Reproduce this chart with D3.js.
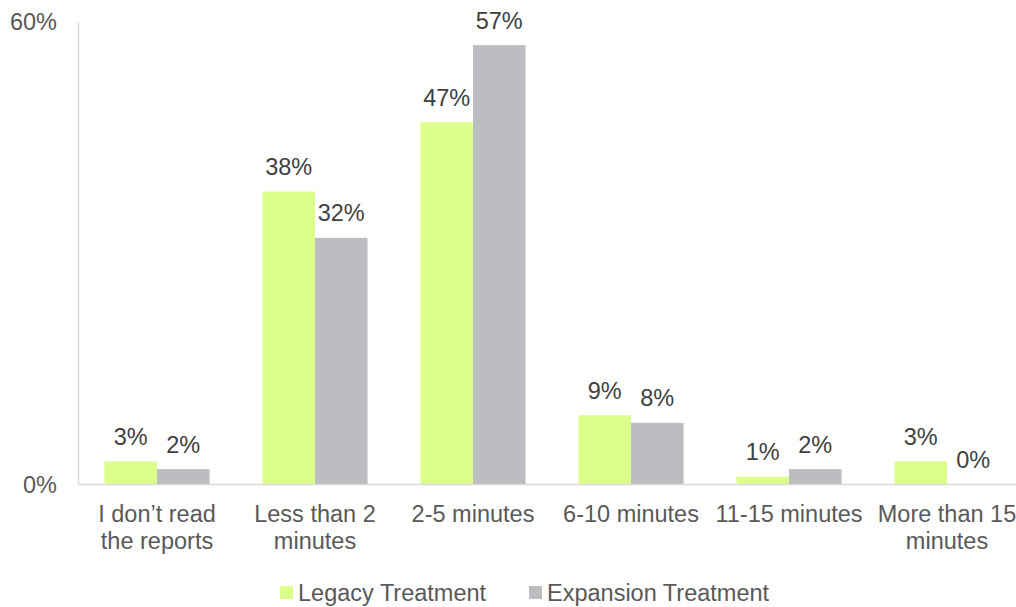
<!DOCTYPE html>
<html>
<head>
<meta charset="utf-8">
<script src="https://cdn.jsdelivr.net/npm/d3@7"></script>
<style>
  html, body { margin: 0; padding: 0; background: #ffffff; }
  svg { display: block; font-family: "Liberation Sans", Arial, sans-serif; }
</style>
</head>
<body>
<svg id="chart" width="1016" height="607"></svg>
<script>
// Time spent reading the reports, share of respondents per treatment
const categories = [
  ["I don\u2019t read", "the reports"],
  ["Less than 2", "minutes"],
  ["2-5 minutes"],
  ["6-10 minutes"],
  ["11-15 minutes"],
  ["More than 15", "minutes"]
];
const seriesNames = ["Legacy Treatment", "Expansion Treatment"];
const legacyValues = [0.03, 0.38, 0.47, 0.09, 0.01, 0.03];
const expansionValues = [0.02, 0.32, 0.57, 0.08, 0.02, 0.00];
const yTickValues = [0, 0.6];
const seriesColors = ["#dcff8c", "#bcbdc0"];

(function drawChart() {
  const svg = d3.select("#chart");
  const plotLeft = 78, plotRight = 1026, plotTop = 22, plotBottom = 484.5;
  const fontSize = 23.5;

  const catKeys = categories.map(c => c.join(" "));
  const x0 = d3.scaleBand()
    .domain(catKeys)
    .range([plotLeft, plotRight])
    .paddingInner(0.335)
    .paddingOuter(0.1675);
  const x1 = d3.scaleBand()
    .domain(seriesNames)
    .range([0, x0.bandwidth()])
    .padding(0);
  const y = d3.scaleLinear().domain([0, 0.6]).range([plotBottom, plotTop]);
  const color = d3.scaleOrdinal().domain(seriesNames).range(seriesColors);

  const rows = catKeys.map((k, i) => ({
    key: k,
    values: [
      { series: seriesNames[0], value: legacyValues[i] },
      { series: seriesNames[1], value: expansionValues[i] }
    ]
  }));

  // Bars
  const groups = svg.append("g").selectAll("g")
    .data(rows)
    .join("g")
    .attr("transform", d => `translate(${x0(d.key)},0)`);

  groups.selectAll("rect")
    .data(d => d.values)
    .join("rect")
    .attr("x", d => x1(d.series))
    .attr("y", d => y(d.value))
    .attr("width", x1.bandwidth())
    .attr("height", d => y(0) - y(d.value))
    .attr("fill", d => color(d.series));

  // Value labels
  groups.selectAll("text")
    .data(d => d.values)
    .join("text")
    .attr("x", d => x1(d.series) + x1.bandwidth() / 2)
    .attr("y", d => y(d.value) - 16.5)
    .attr("text-anchor", "middle")
    .attr("font-size", fontSize)
    .attr("fill", "#404040")
    .text(d => d3.format(".0%")(d.value));

  // Y axis: line and two tick labels
  const yAxis = svg.append("g")
    .attr("transform", `translate(${plotLeft},0)`)
    .call(d3.axisLeft(y).tickValues(yTickValues).tickFormat(d3.format(".0%")).tickSize(0).tickPadding(21));
  yAxis.select(".domain").attr("stroke", "#d9d9d9").attr("stroke-width", 1.5);
  yAxis.selectAll("text")
    .attr("font-size", fontSize)
    .attr("font-family", "Liberation Sans, Arial, sans-serif")
    .attr("fill", "#595959");

  // X axis baseline and wrapped category labels
  const xAxis = svg.append("g")
    .attr("transform", `translate(0,${plotBottom})`)
    .call(d3.axisBottom(x0).tickSize(0).tickFormat(""));
  xAxis.select(".domain").attr("stroke", "#d9d9d9").attr("stroke-width", 1.5).attr("d", `M${plotLeft},0H1016`);

  const catLabels = svg.append("g").selectAll("text")
    .data(categories)
    .join("text")
    .attr("x", (d, i) => x0(catKeys[i]) + x0.bandwidth() / 2)
    .attr("y", 521.7)
    .attr("text-anchor", "middle")
    .attr("font-size", fontSize)
    .attr("fill", "#595959");
  catLabels.selectAll("tspan")
    .data(d => d)
    .join("tspan")
    .attr("x", function () { return d3.select(this.parentNode).attr("x"); })
    .attr("dy", (d, i) => i === 0 ? 0 : 26.8)
    .text(d => d);

  // Legend
  const legendItems = [
    { name: seriesNames[0], x: 280 },
    { name: seriesNames[1], x: 529 }
  ];
  const legend = svg.append("g").selectAll("g")
    .data(legendItems)
    .join("g")
    .attr("transform", d => `translate(${d.x},0)`);
  legend.append("rect")
    .attr("x", 0).attr("y", 586)
    .attr("width", 13).attr("height", 13)
    .attr("fill", d => color(d.name));
  legend.append("text")
    .attr("x", 18).attr("y", 600.5)
    .attr("font-size", fontSize)
    .attr("fill", "#595959")
    .text(d => d.name);
})();
</script>
</body>
</html>
